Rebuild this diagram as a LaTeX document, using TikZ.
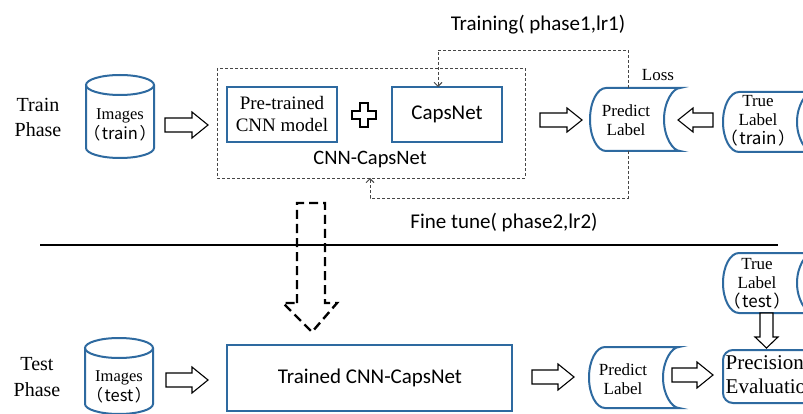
\documentclass[tikz,border=0pt]{standalone}
\usepackage{fontspec}
\setmainfont{Liberation Serif}
\newfontfamily\calib{Carlito}
\newfontfamily\cjk{Noto Sans CJK SC}
\newcommand\lpar{\cjk{（}\hspace{1.5pt}}
\newcommand\rpar{\hspace{1.5pt}\cjk{）}}
\usetikzlibrary{arrows.meta}
\definecolor{bl}{RGB}{46,106,160}
\definecolor{dk}{RGB}{70,70,70}
\tikzset{
  blueline/.style={draw=bl, line width=2pt},
  sertxt/.style={font=\fontsize{17}{19.5}\selectfont, align=center, inner sep=0pt},
  bigser/.style={font=\fontsize{20}{25}\selectfont, align=center, inner sep=0pt},
  sanstxt/.style={font=\calib\fontsize{21}{24}\selectfont, inner sep=0pt},
  hollow/.style={draw=black, line width=1.1pt, fill=white, line join=miter},
  fb/.style={draw=dk, line width=0.9pt, dash pattern=on 3pt off 2pt},
  fbarrow/.style={fb, -{Straight Barb[length=4pt,width=8pt]}},
  bigdash/.style={draw=black, line width=2.4pt, dash pattern=on 9pt off 5pt},
}
% #1 tail point, #2 length, #3 rotation, #4 head half width, #5 shaft half width, #6 head length
\newcommand\hollowarr[6]{%
  \draw[hollow, shift={#1}, rotate=#3] (0,-#5) -- ({#2-#6},-#5) -- ({#2-#6},-#4) -- (#2,0) -- ({#2-#6},#4) -- ({#2-#6},#5) -- (0,#5) -- cycle;}
% stored data shape: #1 left x, #2 top, #3 bottom, #4 width
\newcommand\storedshape[4]{%
  \draw[blueline]
  ({#1+16},#2) -- ({#1+#4},#2)
  .. controls ({#1+#4-7.2},#2) and ({#1+#4-16},{(#2+#3)/2-0.5523*(#3-#2)/2}) .. ({#1+#4-16},{(#2+#3)/2})
  .. controls ({#1+#4-16},{(#2+#3)/2+0.5523*(#3-#2)/2}) and ({#1+#4-7.2},#3) .. ({#1+#4},#3)
  -- ({#1+16},#3)
  .. controls ({#1+7.2},#3) and (#1,{(#2+#3)/2+0.5523*(#3-#2)/2}) .. (#1,{(#2+#3)/2})
  .. controls (#1,{(#2+#3)/2-0.5523*(#3-#2)/2}) and ({#1+7.2},#2) .. ({#1+16},#2) -- cycle;}
% cylinder: #1 centre x, #2 top, #3 bottom, #4 x radius
\newcommand\cylshape[4]{%
  \draw[blueline] (#1,{#2+10}) ellipse [x radius=#4, y radius=10];
  \draw[blueline] ({#1-#4},{#2+10}) -- ({#1-#4},{#3-10})
   .. controls ({#1-#4},{#3-10+5.523}) and ({#1-0.5523*#4},#3) .. (#1,#3)
   .. controls ({#1+0.5523*#4},#3) and ({#1+#4},{#3-10+5.523}) .. ({#1+#4},{#3-10})
   -- ({#1+#4},{#2+10});}
\begin{document}
\begin{tikzpicture}[x=1pt,y=-1pt]
\useasboundingbox (0,0) rectangle (803,414);
\clip (0,0) rectangle (803,414);
\fill[white] (0,0) rectangle (803,414);

% ---------- Train phase ----------
\node[bigser] (trainph) at (38,117) {Train\\Phase};

\cylshape{120}{75}{158}{34}
\node[sertxt, font=\fontsize{16.5}{20}\selectfont] (imgtrain) at (120,125) {Images\\\lpar train\rpar};

\hollowarr{(165,125)}{43}{0}{13}{7}{16}

\draw[fb] (217,68) rectangle (525,178);
\draw[blueline] (227,87) rectangle (337,142);
\node[sertxt, font=\fontsize{19}{22}\selectfont] (pre) at (282,114.5) {Pre-trained\\CNN model};
\draw[hollow] (360,103) -- (368,103) -- (368,111) -- (376,111) -- (376,119) -- (368,119) -- (368,127) -- (360,127) -- (360,119) -- (352,119) -- (352,111) -- (360,111) -- cycle;
\draw[blueline] (392,87) rectangle (502,142);
\node[sanstxt] (caps) at (447,114.5) {CapsNet};
\node[sanstxt, font=\calib\fontsize{20.5}{24}\selectfont] (cnncaps) at (370,160) {CNN-CapsNet};

\hollowarr{(540,120)}{42}{0}{12}{7}{15}

\storedshape{590}{88}{151}{90}
\node[sertxt] (predtrain) at (626,120) {Predict\\Label};
\node[sertxt] (loss) at (658,75) {Loss};

\hollowarr{(713,120)}{35}{180}{12}{7}{15}

\storedshape{723}{92}{152}{90}
\node[sertxt, font=\fontsize{17}{19}\selectfont] (truetrain) at (758,121) {True\\Label\\\lpar train\rpar};

% feedback loops
\coordinate (tr1) at (628,88);
\coordinate (tr2) at (438,87);
\draw[fbarrow] (tr1) -- (628,50) -- (438,50) -- (tr2);
\node[sanstxt] (training) at (538,25) {Training( phase1,lr1)};
\coordinate (ft1) at (628,151);
\coordinate (ft2) at (370,178);
\draw[fbarrow] (ft1) -- (628,198) -- (370,198) -- (ft2);
\node[sanstxt] (finetune) at (504,223) {Fine tune( phase2,lr2)};

% separator
\draw[line width=1.3pt] (40,245) -- (778,245);

% dashed transfer arrow
\draw[bigdash] (297,303) -- (297,203) -- (325,203) -- (325,303) -- (337,303) -- (312,332) -- (283,303) -- cycle;

% ---------- Test phase ----------
\node[bigser, font=\fontsize{20}{26}\selectfont] (testph) at (37,377) {Test\\Phase};

\cylshape{119}{338}{414}{34}
\node[sertxt, font=\fontsize{16.5}{20}\selectfont] (imgtest) at (119,387) {Images\\\lpar test\rpar};

\hollowarr{(166,380)}{42}{0}{13}{7}{16}

\draw[blueline] (227,345) rectangle (512,411);
\node[sanstxt] (trained) at (370,378) {Trained CNN-CapsNet};

\hollowarr{(532,377)}{42}{0}{13}{7}{16}

\storedshape{589}{347}{408}{90}
\node[sertxt] (predtest) at (623,379) {Predict\\Label};

\hollowarr{(672,375)}{41}{0}{13}{7}{16}

\storedshape{723}{253}{313}{90}
\node[sertxt, font=\fontsize{17}{19}\selectfont] (truetest) at (757,284) {True\\Label\\\lpar test\rpar};

\hollowarr{(766.5,313)}{35}{-90}{11.5}{6.5}{11}

\draw[blueline, rounded corners=10pt] (723,350) rectangle (840,403);
\node[font=\fontsize{21}{24}\selectfont, align=left, inner sep=0pt, anchor=west] (prec) at (725.5,375) {Precision\\Evaluation};
\end{tikzpicture}
\end{document}
